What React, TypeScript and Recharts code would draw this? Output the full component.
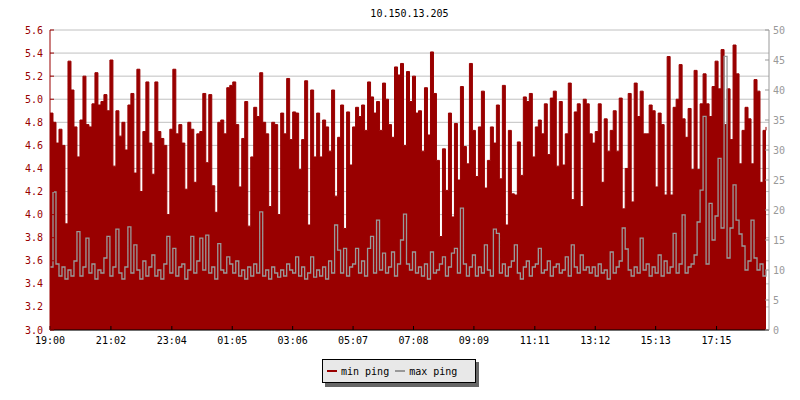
import React from 'react';
import {ComposedChart, Area, Line, XAxis, YAxis, CartesianGrid} from 'recharts';

// one sample every 6 minutes, starting 19:00
const minPing = [
    4.88, 4.8, 4.62, 4.74, 4.6, 3.92, 5.33, 5.08, 4.76, 4.5,
    4.82, 5.2, 4.78, 4.76, 4.96, 5.23, 4.95, 4.98, 5.04, 4.9,
    5.34, 4.42, 4.9, 4.68, 4.8, 4.56, 4.95, 5.05, 4.36, 5.26,
    4.2, 4.72, 5.15, 4.62, 4.35, 5.15, 4.72, 4.66, 4.6, 4.0,
    4.74, 5.26, 4.7, 4.78, 4.62, 4.22, 4.8, 4.74, 4.28, 4.7,
    4.72, 5.05, 4.45, 5.04, 4.25, 4.02, 4.8, 4.82, 4.7, 5.1,
    5.12, 5.15, 4.78, 4.24, 4.66, 4.98, 3.9, 4.5, 4.93, 4.85,
    5.23, 4.8, 4.7, 4.07, 4.8, 4.78, 4.0, 4.88, 4.7, 5.18,
    4.65, 4.89, 4.88, 4.39, 4.65, 5.16, 3.91, 5.08, 4.5, 4.88,
    4.5, 4.82, 4.76, 4.55, 5.08, 4.16, 4.67, 4.95, 3.88, 4.89,
    4.43, 4.76, 4.93, 4.85, 4.95, 4.73, 5.15, 5.02, 4.88, 4.98,
    4.73, 5.14, 5.0, 4.78, 4.67, 5.28, 5.21, 5.31, 4.6, 5.24,
    4.98, 5.2, 4.88, 4.9, 4.55, 5.1, 4.69, 5.41, 5.05, 4.47,
    3.81, 4.57, 4.21, 4.88, 3.98, 4.79, 4.3, 5.11, 4.59, 4.44,
    5.31, 4.73, 4.33, 4.76, 5.07, 4.23, 4.47, 4.76, 4.62, 4.95,
    4.31, 5.12, 3.91, 4.73, 4.18, 4.17, 4.63, 4.34, 5.02, 4.98,
    5.05, 4.5, 4.76, 4.82, 4.7, 4.96, 4.52, 5.01, 5.07, 4.42,
    4.98, 4.43, 4.7, 5.14, 4.13, 4.89, 4.96, 4.07, 5.0, 4.96,
    4.7, 4.62, 4.72, 4.96, 4.28, 4.83, 4.55, 4.73, 4.9, 4.55,
    5.01, 4.05, 4.4, 5.05, 4.11, 5.14, 4.85, 5.07, 4.7, 4.7,
    4.95, 4.9, 4.24, 4.88, 4.78, 4.17, 5.37, 4.17, 4.93, 5.0,
    5.3, 4.83, 4.67, 4.92, 4.39, 5.25, 4.39, 4.96, 5.22, 4.96,
    4.85, 5.11, 5.33, 5.09, 5.43, 4.78, 5.09, 4.65, 5.47, 5.22,
    4.44, 4.73, 4.93, 4.83, 4.44, 5.17, 5.07, 4.28, 4.73, 4.76,
];

const maxPing = [
    10.5, 23.0, 11.0, 9.0, 10.5, 8.5, 10.0, 9.0, 11.5, 16.4,
    9.0, 10.5, 15.3, 9.5, 11.0, 8.5, 10.0, 9.5, 12.0, 15.6,
    9.0, 10.5, 16.8, 9.5, 8.5, 10.5, 17.2, 9.5, 14.2, 10.0,
    8.5, 11.5, 9.0, 10.5, 12.5, 9.0, 10.0, 8.5, 11.0, 15.6,
    9.5, 13.6, 9.0, 10.5, 11.0, 8.5, 10.0, 15.6, 9.5, 11.5,
    15.3, 10.0, 15.8, 9.5, 10.5, 8.5, 14.4, 10.0, 9.5, 12.2,
    11.0, 9.5, 11.5, 9.0, 10.0, 8.5, 10.5, 9.0, 11.0, 9.5,
    19.7, 9.0, 10.0, 8.5, 10.5, 9.5, 8.8, 10.0, 9.0, 11.0,
    10.0, 9.5, 12.2, 9.0, 10.5, 8.5, 9.5, 12.2, 8.8, 10.0,
    9.0, 10.5, 8.5, 11.5, 9.5, 17.5, 13.3, 9.5, 13.6, 9.0,
    10.5, 11.0, 13.6, 9.5, 11.5, 9.0, 13.6, 15.6, 9.5, 18.3,
    10.0, 12.8, 9.5, 10.5, 13.0, 9.0, 11.0, 15.0, 19.3, 11.0,
    10.0, 13.0, 9.5, 10.5, 9.0, 11.0, 8.5, 13.0, 9.5, 10.0,
    11.0, 12.2, 9.0, 10.5, 12.8, 13.6, 9.5, 20.3, 11.0, 9.0,
    10.5, 12.5, 9.0, 10.5, 9.5, 14.2, 10.0, 9.0, 16.8, 16.1,
    9.5, 11.0, 9.0, 10.5, 11.5, 14.2, 9.5, 8.5, 10.5, 11.5,
    9.0, 10.5, 11.0, 13.6, 9.5, 10.0, 11.5, 9.0, 10.5, 11.0,
    9.5, 10.0, 12.2, 9.0, 14.2, 10.5, 9.5, 12.5, 10.0, 10.5,
    9.5, 10.5, 9.0, 11.0, 9.5, 10.0, 8.5, 13.0, 9.5, 10.5,
    11.5, 17.0, 13.5, 10.0, 9.0, 10.5, 9.5, 15.3, 10.0, 11.0,
    9.0, 10.5, 9.5, 12.5, 9.0, 11.5, 9.5, 10.5, 16.1, 9.5,
    11.0, 19.2, 9.5, 10.5, 11.0, 12.5, 18.0, 23.3, 35.6, 11.0,
    21.1, 15.0, 19.0, 28.6, 17.0, 45.6, 12.0, 17.0, 24.2, 18.3,
    16.0, 14.0, 10.0, 11.5, 18.3, 12.0, 10.0, 11.0, 9.0, 10.0,
];

// minutes after 19:00
const timeTicks = [0, 122, 244, 365, 486, 607, 728, 849, 971, 1092, 1213, 1335];
const timeLabels = ['19:00', '21:02', '23:04', '01:05', '03:06', '05:07', '07:08', '09:09', '11:11', '13:12', '15:13', '17:15'];

const leftTicks = [3.0, 3.2, 3.4, 3.6, 3.8, 4.0, 4.2, 4.4, 4.6, 4.8, 5.0, 5.2, 5.4, 5.6];
const leftMinor = [3.1, 3.3, 3.5, 3.7, 3.9, 4.1, 4.3, 4.5, 4.7, 4.9, 5.1, 5.3, 5.5];
const rightTicks = [0, 5, 10, 15, 20, 25, 30, 35, 40, 45, 50];
const rightMinor = Array.from({length: 51}, (_, i) => i);

const data = minPing.map((v, i) => ({t: i * 6, min: v, max: maxPing[i]}));

const RED = '#990000';
const GREY = '#999999';
const font = "'DejaVu Sans Mono', monospace";
const tickFont = {fontSize: 10, fontFamily: font};

export default function App() {
    return (
        <div style={{position: 'absolute', left: 0, top: 0, width: 800, height: 400, background: '#fff', fontFamily: font}}>
            <div style={{position: 'absolute', left: 0, top: 7, width: 819, textAlign: 'center', fontSize: 10, lineHeight: '14px'}}>
                10.150.13.205
            </div>
            <ComposedChart width={800} height={400} data={data} margin={{top: 30, right: 0, bottom: 50, left: 0}}>
                <CartesianGrid yAxisId='left' vertical={false} stroke='#c0c0c0' />
                <Area
                    yAxisId='left'
                    dataKey='min'
                    type='stepAfter'
                    fill={RED}
                    fillOpacity={1}
                    stroke={RED}
                    strokeWidth={1}
                    dot={false}
                    activeDot={false}
                    isAnimationActive={false}
                />
                <Line
                    yAxisId='right'
                    dataKey='max'
                    type='stepAfter'
                    stroke={GREY}
                    strokeWidth={1.3}
                    dot={false}
                    activeDot={false}
                    isAnimationActive={false}
                />
                <XAxis
                    dataKey='t'
                    type='number'
                    domain={[0, 1440]}
                    allowDataOverflow
                    ticks={timeTicks}
                    interval={0}
                    tickFormatter={(v) => timeLabels[timeTicks.indexOf(v)]}
                    height={20}
                    tickSize={-4}
                    tickMargin={11}
                    axisLine={{stroke: '#000'}}
                    tickLine={{stroke: '#000'}}
                    tick={{...tickFont, fill: '#000'}}
                />
                <YAxis
                    yAxisId='left'
                    orientation='left'
                    type='number'
                    domain={[3, 5.6]}
                    allowDataOverflow
                    ticks={leftTicks}
                    interval={0}
                    width={50}
                    tickSize={-4}
                    tickMargin={11}
                    tickFormatter={(v) => v.toFixed(1)}
                    axisLine={{stroke: RED}}
                    tickLine={{stroke: RED}}
                    tick={{...tickFont, fill: RED}}
                />
                <YAxis
                    yAxisId='leftMinor'
                    orientation='left'
                    type='number'
                    domain={[3, 5.6]}
                    allowDataOverflow
                    ticks={leftMinor}
                    interval={0}
                    width={0}
                    tickSize={-4}
                    tickFormatter={() => ''}
                    axisLine={false}
                    tickLine={{stroke: RED}}
                />
                <YAxis
                    yAxisId='right'
                    orientation='right'
                    type='number'
                    domain={[0, 50]}
                    allowDataOverflow
                    ticks={rightTicks}
                    interval={0}
                    width={31}
                    tickSize={-4}
                    tickMargin={8}
                    axisLine={{stroke: GREY}}
                    tickLine={{stroke: GREY}}
                    tick={{...tickFont, fill: GREY}}
                />
                <YAxis
                    yAxisId='rightMinor'
                    orientation='right'
                    type='number'
                    domain={[0, 50]}
                    allowDataOverflow
                    ticks={rightMinor}
                    interval={0}
                    width={0}
                    tickSize={-4}
                    tickFormatter={() => ''}
                    axisLine={false}
                    tickLine={{stroke: GREY}}
                />
            </ComposedChart>
            {/* legend box with drop shadow */}
            <div style={{position: 'absolute', left: 325, top: 362, width: 154, height: 25, background: '#666'}} />
            <div
                style={{
                    position: 'absolute',
                    left: 322,
                    top: 359,
                    width: 154,
                    height: 24,
                    boxSizing: 'border-box',
                    border: '1px solid #000',
                    background: '#e8e8e8',
                    display: 'flex',
                    alignItems: 'center',
                    fontSize: 10,
                    paddingLeft: 4,
                }}
            >
                <span style={{display: 'inline-block', width: 10, height: 2, background: RED, marginRight: 4}} />
                <span style={{marginRight: 6}}>min ping</span>
                <span style={{display: 'inline-block', width: 10, height: 2, background: GREY, marginRight: 4}} />
                <span>max ping</span>
            </div>
        </div>
    );
}
